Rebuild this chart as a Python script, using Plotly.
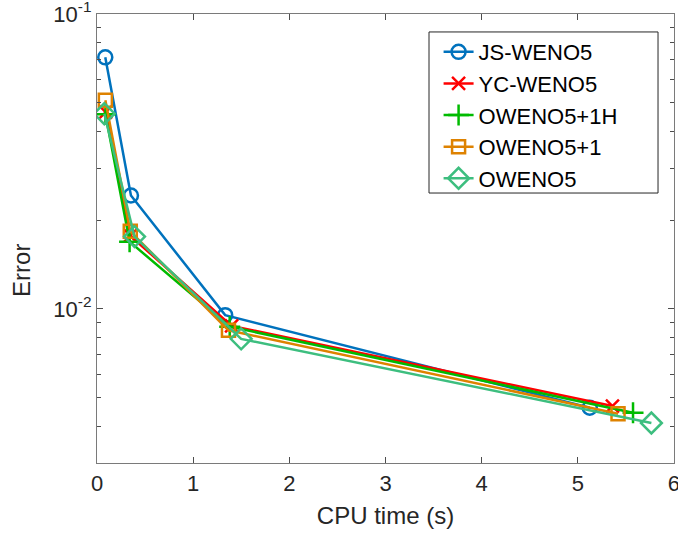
import plotly.graph_objects as go
import numpy as np

series_names = ["JS-WENO5", "YC-WENO5", "OWENO5+1H", "OWENO5+1", "OWENO5"]
cpu_js = [0.086, 0.353, 1.333, 5.124]
err_js = [0.0713, 0.02423, 0.00952, 0.00462]
cpu_yc = [0.090, 0.346, 1.400, 5.360]
err_yc = [0.0465, 0.0177, 0.00875, 0.00468]
cpu_1h = [0.088, 0.339, 1.380, 5.574]
err_1h = [0.0457, 0.0169, 0.00870, 0.00444]
cpu_p1 = [0.087, 0.346, 1.367, 5.418]
err_p1 = [0.0510, 0.01832, 0.00846, 0.00441]
cpu_o = [0.076, 0.390, 1.499, 5.765]
err_o = [0.0459, 0.01758, 0.00791, 0.00410]

x_ticks = [0, 1, 2, 3, 4, 5, 6]
y_ticks = [0.01, 0.1]
y_ticktext = ["10<sup>-2</sup>", "10<sup>-1</sup>"]
y_minor = [0.003, 0.004, 0.005, 0.006, 0.007, 0.008, 0.009,
           0.02, 0.03, 0.04, 0.05, 0.06, 0.07, 0.08, 0.09]
x_title = "CPU time (s)"
y_title = "Error"

colors = ["#0072BD", "#FF0000", "#00BB00", "#DE8200", "#3DBE7F"]
symbols = ["circle-open", "x-thin-open", "cross-thin-open", "square-open", "diamond-open"]
sizes = [14, 13, 15, 13, 16]
data = [(cpu_js, err_js), (cpu_yc, err_yc), (cpu_1h, err_1h), (cpu_p1, err_p1), (cpu_o, err_o)]

FONT = "Liberation Sans, Arial, sans-serif"
fig = go.Figure()
for name, (xs, ys), c, s, sz in zip(series_names, data, colors, symbols, sizes):
    fig.add_trace(go.Scatter(
        x=xs, y=ys, name=name, mode="lines+markers",
        line=dict(color=c, width=2.5),
        marker=dict(symbol=s, size=sz, color=c, line=dict(color=c, width=2.5)),
    ))

axis_common = dict(
    showline=True, linecolor="#7a7a7a", linewidth=1.3, mirror="ticks",
    ticks="inside", tickcolor="#4d4d4d", tickwidth=1, ticklen=6,
    showgrid=False, zeroline=False, automargin=False,
    ticklabeloverflow="allow",
    tickfont=dict(family=FONT, size=22, color="#262626"),
)
# legend frame
fig.add_shape(type="rect", xref="paper", yref="paper",
              x0=0.5754, x1=0.9723, y0=0.6013, y1=0.960,
              line=dict(color="#262626", width=1), fillcolor="white", layer="above")
# y-axis title
fig.add_annotation(text=y_title, xref="paper", yref="paper", x=-0.13, y=0.43,
                   xanchor="center", yanchor="middle", textangle=-90, showarrow=False,
                   font=dict(family=FONT, size=24, color="#262626"))
fig.update_layout(
    width=678, height=536,
    margin=dict(l=97, r=4, t=14, b=73),
    paper_bgcolor="white", plot_bgcolor="white",
    font=dict(family=FONT, size=22, color="#262626"),
    xaxis=dict(range=[0, 6.0001], tickvals=x_ticks,
               title=dict(text=x_title, font=dict(family=FONT, size=24, color="#262626"), standoff=12),
               **axis_common),
    yaxis=dict(type="log", range=[np.log10(0.003), -0.9999], tickvals=y_ticks, ticktext=y_ticktext,
               minor=dict(tickvals=y_minor, ticks="inside", ticklen=3.5, tickcolor="#4d4d4d", tickwidth=1),
               **axis_common),
    legend=dict(x=0.592, y=0.962, xanchor="left", yanchor="top",
                bgcolor="rgba(0,0,0,0)", borderwidth=0,
                font=dict(family=FONT, size=22, color="#000000"),
                itemwidth=30),
    showlegend=True,
)
fig.write_html("out.html", config={"displayModeBar": False},
               post_script="document.body.style.margin='0';document.body.style.overflow='hidden';")
